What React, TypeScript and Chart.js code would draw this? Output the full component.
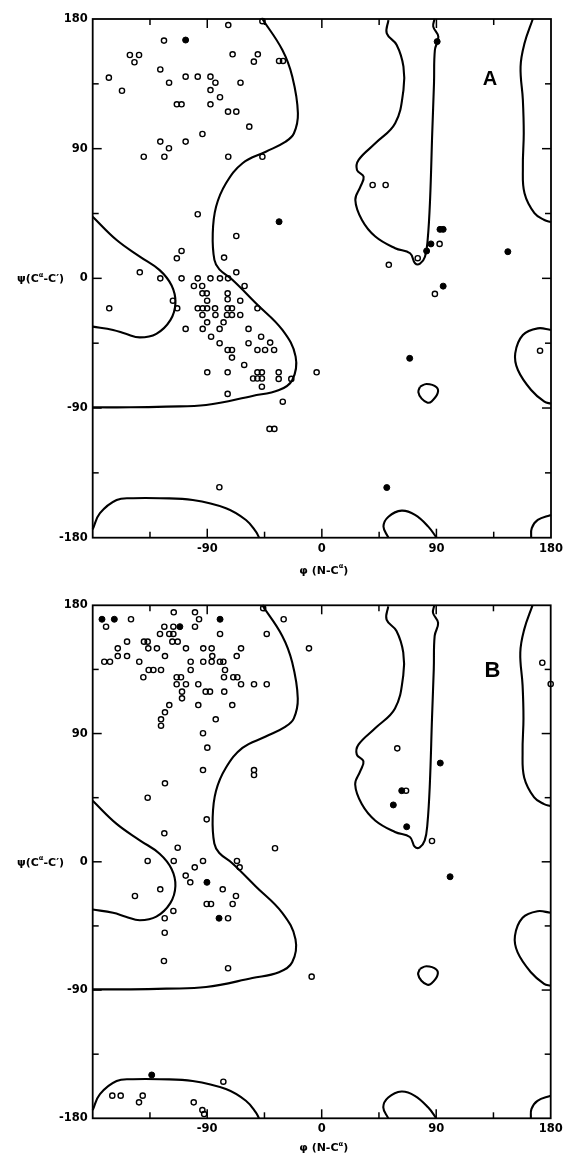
import { useEffect, useRef } from 'react';
import { Chart, registerables } from 'chart.js';

Chart.register(...registerables);

type Pt = [number, number];

const phiTicks = [-180, -135, -90, -45, 0, 45, 90, 135, 180];
const psiTicks = [-180, -135, -90, -45, 0, 45, 90, 135, 180];
const phiLabels = [-90, 0, 90, 180];
const psiLabels = [-180, -90, 0, 90, 180];

// ---------- Panel A ----------
const openA: Pt[] = [
  [-73.5, 175.8], [-46.7, 178.5], [-124, 165], [-150.8, 155], [-143.6, 155], [-147.2, 150],
  [-167.3, 139.3], [-157, 130.2], [-126.9, 145], [-120, 135.8], [-107, 140], [-97.5, 140],
  [-87.5, 140], [-83.6, 135.8], [-87.5, 130.7], [-80, 125.7], [-87.5, 120.8], [-113.9, 120.8],
  [-110.2, 120.8], [-73.7, 115.7], [-67.2, 115.7], [-63.9, 135.8], [-70.1, 155.5], [-53.4, 150.4],
  [-50.3, 155.5], [-33.6, 150.9], [-30.5, 150.9], [-57, 105.3], [-93.8, 100.2], [-126.9, 94.9],
  [-120.1, 90.3], [-107, 94.9], [-139.9, 84.4], [-123.7, 84.4], [-73.5, 84.4], [-46.7, 84.4],
  [-97.5, 44.5], [-67.2, 29.4], [-110.2, 19], [-113.9, 13.9], [-76.8, 14.4], [-143, 4.2],
  [-67.2, 4.2], [-126.9, 0], [-110.2, 0], [-97.5, 0], [-87.5, 0], [-80, 0], [-73.7, 0],
  [-100.5, -5.3], [-94, -5.3], [-60.7, -5.3], [-167, -20.8], [-117, -15.5], [-113.6, -20.8],
  [-107, -35.1], [-93.8, -10.4], [-90.4, -10.4], [-90.1, -15.5], [-74, -10.4], [-74, -14.5],
  [-64.1, -15.5], [-97.5, -20.8], [-93.6, -20.8], [-90.1, -20.8], [-83.9, -20.8], [-74, -20.8],
  [-70.6, -20.8], [-50.6, -20.8], [-83.6, -25.4], [-74.5, -25.4], [-70.6, -25.4], [-64.1, -25.4],
  [-93.8, -25.4], [-90.1, -30.5], [-77.2, -30.5], [-93.6, -35.1], [-80.3, -35.1], [-57.6, -35.1],
  [-87, -40.5], [-47.7, -40.5], [-80.3, -45], [-57.6, -45], [-40.6, -44.6], [-74, -49.7],
  [-70.6, -49.7], [-50.6, -49.7], [-44.6, -49.7], [-37.5, -49.7], [-70.6, -55], [-61, -60.1],
  [-90, -65.2], [-74, -65.2], [-50.6, -65.2], [-47.1, -65.2], [-33.9, -65.2], [-54, -69.5],
  [-50.6, -69.5], [-47.1, -69.5], [-33.9, -69.8], [-24, -69.8], [-47.1, -75.2], [-74, -80.2],
  [-30.7, -85.6], [-41.1, -104.5], [-37.3, -104.5], [-80.5, -145],
  [39.9, 64.8], [50.1, 64.8], [92.5, 23.9], [75.3, 14], [52.6, 9.4], [88.8, -10.8],
  [171.4, -50.2], [-4.1, -65.2],
];
const filledA: Pt[] = [
  [-107, 165.4], [-33.6, 39.3], [90.6, 164.3], [92.8, 34], [95.3, 34], [85.7, 23.9],
  [82.3, 19], [95.3, -5.4], [146.1, 18.5], [69, -55.5], [51, -145.2],
];

// ---------- Panel B ----------
const openB: Pt[] = [
  [-169.5, 165], [-149.9, 170.2], [-116.3, 175.1], [-99.6, 175.1], [-96.4, 170.2], [-99.6, 165],
  [-79.9, 159.9], [-43.2, 159.9], [-29.9, 170.2], [-46, 178], [-123.7, 165], [-116.6, 165],
  [-127.1, 159.9], [-119.8, 159.9], [-116.6, 159.9], [-117.4, 154.5], [-113.2, 154.5],
  [-153, 154.5], [-139.7, 154.5], [-136.8, 154.5], [-136.3, 149.8], [-129.5, 149.8],
  [-160.3, 149.8], [-160.3, 144.4], [-153, 144.4], [-123.2, 144.4], [-106.7, 149.8],
  [-93.1, 149.8], [-86.5, 149.8], [-63.4, 149.8], [-86, 144.4], [-66.8, 144.4], [-170.9, 140.4],
  [-166.4, 140.4], [-143.4, 140.4], [-103, 140.4], [-93.1, 140.4], [-86.5, 140.4], [-80, 140.4],
  [-77.3, 140.4], [-103, 134.6], [-136, 134.6], [-132.3, 134.6], [-126.3, 134.6], [-76, 134.6],
  [-140.2, 129.5], [-114, 129.5], [-110.6, 129.5], [-76.8, 129.5], [-69.5, 129.5], [-66.3, 129.5],
  [-114, 124.6], [-106.7, 124.6], [-97, 124.6], [-63.4, 124.6], [-53.2, 124.6], [-43.2, 124.6],
  [-109.8, 119.4], [-109.8, 114.7], [-91.2, 119.4], [-87.8, 119.4], [-76.6, 119.4], [-119.8, 110],
  [-123.2, 104.9], [-126.3, 100], [-126.3, 95.5], [-97, 110], [-70.3, 110], [-83.3, 100],
  [-93.3, 90.2], [-89.9, 80.1], [-93.3, 64.4], [-53.2, 64.4], [-53.2, 60.9], [-123.2, 55.1],
  [-136.8, 45], [-90.4, 29.8], [-123.7, 20], [-113.2, 9.9], [-36.7, 9.5], [-136.8, 0.6],
  [-116.3, 0.6], [-99.8, -3.9], [-93.3, 0.6], [-66.6, 0.6], [-64.5, -3.9], [-106.9, -9.7],
  [-103.3, -14.4], [-126.9, -19.3], [-146.8, -24], [-77.8, -19.3], [-67.4, -24], [-90.4, -29.6],
  [-87, -29.6], [-70, -29.6], [-116.6, -34.5], [-123.4, -39.6], [-73.6, -39.6], [-123.4, -49.8],
  [-124, -69.6], [-73.6, -74.7], [-77.3, -154.3], [-164.6, -164.1], [-158, -164.1],
  [-140.7, -164.1], [-143.6, -168.8], [-100.6, -168.8], [-93.8, -174.2], [-92.4, -177],
  [-10, 149.8], [59.4, 79.6], [66.3, 49.9], [86.7, 14.6], [173.4, 139.7], [180, 124.8],
  [-7.9, -80.6],
];
const filledB: Pt[] = [
  [-172.7, 170.2], [-163, 170.2], [-79.9, 170.2], [-111.5, 165], [-90.2, -14.4], [-80.7, -39.6],
  [-133.6, -149.6], [93.2, 69.3], [62.9, 49.9], [56.3, 39.9], [66.8, 24.6], [100.9, -10.5],
];

// ---------- Allowed-region contours (shared by both panels) ----------
const contourMain: Pt[] = [
  [-46.7, 180], [-31, 158.5], [-23.2, 140], [-18.8, 114.6], [-21.9, 100.7], [-28.4, 94.9],
  [-44, 87.9], [-62.3, 79.9], [-75.3, 66], [-83.1, 49.7], [-85.7, 31.3], [-84.4, 12.8],
  [-80.5, 6.2], [-70.3, -1], [-51.8, -17.3], [-31, -35.8], [-20.6, -54.3], [-23.2, -70.5],
  [-33.6, -77.5], [-54.5, -81.6], [-90.9, -87.9], [-122.2, -89], [-150, -89.5], [-180, -89.5],
];
const contourPocket: Pt[] = [
  [-180, 42.8], [-161.2, 26.6], [-143, 15.1], [-127.4, 5.7], [-118, -5], [-115, -17],
  [-119, -29], [-130, -38.5], [-143, -41], [-154, -38.5], [-164, -35.8], [-180, -33.5],
];
const contourMid: Pt[] = [
  [52.3, 179.3], [51, 170], [58.8, 162], [64.1, 146.9], [64.1, 130.7], [57.6, 107.6],
  [42, 93.7], [28.9, 82.2], [27.6, 75.2], [32.8, 70.6], [30.3, 63.6], [26.3, 54.4],
  [31.5, 40.5], [42, 29], [57.6, 20.9], [69.3, 17.4], [73.2, 10.5], [77.1, 10.2],
  [81, 15], [83.1, 26.6], [85, 54.4], [86.7, 100.7], [88.1, 135.4], [88.8, 158.5],
  [91.5, 167.7], [87.5, 174.7], [88.5, 180],
];
const contourRightTop: Pt[] = [
  [165.7, 180], [159.2, 163.1], [156.1, 146.9], [157.9, 123.8], [158.6, 100.7], [157.9, 77.5],
  [159.2, 59], [167, 45.2], [174.8, 40.5], [180, 39],
];
const contourRightMid: Pt[] = [
  [180, -35.8], [169.6, -34.7], [157.9, -39.3], [151.9, -52], [154, -63.6], [164.4, -77.5],
  [174.8, -85.6], [180, -87],
];
const contourLoop: Pt[] = [
  [77.1, -75.2], [82.3, -73.3], [90.1, -75.6], [90.9, -79.9], [86.2, -85.4], [83.1, -86.3],
  [78.4, -83.5], [75.8, -78.9], [77.1, -75.2],
];
const contourBottomMid: Pt[] = [
  [52.3, -180], [48.4, -172.3], [52.3, -165.4], [62.7, -161.2], [73.2, -164.2], [83.6, -172.3],
  [90.1, -180],
];
const contourBottomRight: Pt[] = [
  [180, -164.2], [169.6, -167.7], [164.9, -173.4], [164.4, -180],
];
const contourBottomLeft: Pt[] = [
  [-180, -174.2], [-174.3, -163], [-161.2, -153.8], [-148.3, -152.6], [-127.4, -152.6],
  [-101.4, -153.8], [-75.3, -159.5], [-59.6, -167.7], [-51.8, -175.8], [-49.3, -180],
];
const contours: Pt[][] = [
  contourMain, contourPocket, contourMid, contourRightTop, contourRightMid, contourLoop,
  contourBottomMid, contourBottomRight, contourBottomLeft,
];

const FONT = '"DejaVu Sans", sans-serif';

type Area = { left: number; right: number; top: number; bottom: number };

function drawParts(
  ctx: CanvasRenderingContext2D,
  parts: { t: string; sup?: boolean }[],
  x: number,
  y: number,
  size: number,
  center: boolean,
) {
  const widths = parts.map((p) => {
    ctx.font = `bold ${p.sup ? size * 0.62 : size}px ${FONT}`;
    return ctx.measureText(p.t).width;
  });
  const total = widths.reduce((a, b) => a + b, 0);
  let cx = center ? x - total / 2 : x;
  parts.forEach((p, i) => {
    ctx.font = `bold ${p.sup ? size * 0.62 : size}px ${FONT}`;
    ctx.fillText(p.t, cx, p.sup ? y - size * 0.5 : y);
    cx += widths[i];
  });
}

const decorPlugin = {
  id: 'decor',
  afterDraw(chart: any, _args: any, opts: any) {
    const { ctx, chartArea: a, scales } = chart;
    const xs = scales.x;
    const ys = scales.y;
    ctx.save();
    ctx.strokeStyle = '#000';
    ctx.fillStyle = '#000';
    ctx.lineWidth = 1.8;
    ctx.strokeRect(a.left, a.top, a.right - a.left, a.bottom - a.top);
    ctx.lineWidth = 1.5;
    const seg = (x1: number, y1: number, x2: number, y2: number) => {
      ctx.beginPath();
      ctx.moveTo(x1, y1);
      ctx.lineTo(x2, y2);
      ctx.stroke();
    };
    phiTicks.forEach((v) => {
      if (Math.abs(v) === 180) return;
      const px = xs.getPixelForValue(v);
      const len = v % 90 === 0 ? 9 : 6;
      seg(px, a.top, px, a.top + len);
      seg(px, a.bottom, px, a.bottom - len);
    });
    psiTicks.forEach((v) => {
      if (Math.abs(v) === 180) return;
      const py = ys.getPixelForValue(v);
      const len = v % 90 === 0 ? 9 : 6;
      seg(a.left, py, a.left + len, py);
      seg(a.right, py, a.right - len, py);
    });
    ctx.textAlign = 'left';
    ctx.textBaseline = 'alphabetic';
    // psi axis title
    drawParts(
      ctx,
      [{ t: 'ψ(C' }, { t: 'α', sup: true }, { t: '-C′)' }],
      opts.yTitleX,
      ys.getPixelForValue(0) + 4,
      11,
      false,
    );
    // phi axis title
    drawParts(
      ctx,
      [{ t: 'φ (N-C' }, { t: 'α', sup: true }, { t: ')' }],
      xs.getPixelForValue(0) + 2,
      a.bottom + opts.xTitleDy,
      11,
      true,
    );
    // panel letter
    ctx.font = `bold ${opts.letterSize}px "Liberation Sans", sans-serif`;
    ctx.textAlign = 'center';
    ctx.fillText(opts.letter, xs.getPixelForValue(opts.letterPhi), ys.getPixelForValue(opts.letterPsi));
    ctx.restore();
  },
};

function Panel(props: {
  open: Pt[];
  filled: Pt[];
  letter: string;
  letterPhi: number;
  letterPsi: number;
  letterSize: number;
  top: number;
  height: number;
  area: Area;
  xTitleDy: number;
}) {
  const ref = useRef<HTMLCanvasElement>(null);
  useEffect(() => {
    const { open, filled, letter, letterPhi, letterPsi, letterSize, height, area, xTitleDy } = props;
    const tickFont = { family: FONT, size: 11.5, weight: 'bold' as const };
    const datasets: any[] = contours.map((c) => ({
      data: c.map(([x, y]) => ({ x, y })),
      showLine: true,
      borderColor: '#000',
      borderWidth: 2.1,
      pointRadius: 0,
      tension: 0.4,
      fill: false,
      clip: 2,
    }));
    datasets.push({
      data: open.map(([x, y]) => ({ x, y })),
      pointStyle: 'circle',
      pointRadius: 2.6,
      pointBorderWidth: 1.4,
      pointBorderColor: '#000',
      pointBackgroundColor: 'rgba(0,0,0,0)',
      showLine: false,
      clip: false,
    });
    datasets.push({
      data: filled.map(([x, y]) => ({ x, y })),
      pointStyle: 'circle',
      pointRadius: 3,
      pointBorderWidth: 1,
      pointBorderColor: '#000',
      pointBackgroundColor: '#000',
      showLine: false,
      clip: false,
    });
    const chart = new Chart(ref.current as HTMLCanvasElement, {
      type: 'scatter',
      data: { datasets },
      plugins: [decorPlugin as any],
      options: {
        animation: false,
        responsive: false,
        devicePixelRatio: 1,
        events: [],
        layout: { padding: { top: area.top, right: 567 - area.right, left: 0, bottom: 0 } },
        plugins: {
          legend: { display: false },
          tooltip: { enabled: false },
          decor: { letter, letterPhi, letterPsi, letterSize, yTitleX: 17, xTitleDy } as any,
        } as any,
        scales: {
          x: {
            type: 'linear',
            min: -180,
            max: 180,
            position: 'bottom',
            afterFit: (s: any) => {
              s.height = height - area.bottom;
            },
            grid: { display: false, drawTicks: false },
            border: { display: false },
            ticks: {
              stepSize: 45,
              autoSkip: false,
              maxRotation: 0,
              padding: 4,
              color: '#000',
              font: tickFont,
              callback: (v: any) => (phiLabels.includes(Number(v)) ? String(v) : ''),
            },
          },
          y: {
            type: 'linear',
            min: -180,
            max: 180,
            position: 'left',
            afterFit: (s: any) => {
              s.width = area.left;
            },
            grid: { display: false, drawTicks: false },
            border: { display: false },
            ticks: {
              stepSize: 45,
              autoSkip: false,
              padding: 5,
              color: '#000',
              font: tickFont,
              callback: (v: any) => (psiLabels.includes(Number(v)) ? String(v) : ''),
            },
          },
        },
      },
    });
    return () => chart.destroy();
  }, []);
  return (
    <canvas
      ref={ref}
      width={567}
      height={props.height}
      style={{ position: 'absolute', left: 0, top: props.top, width: 567, height: props.height }}
    />
  );
}

export default function App() {
  return (
    <div style={{ position: 'absolute', left: 0, top: 0, width: 567, height: 1157, background: '#fff' }}>
      <Panel
        open={openA}
        filled={filledA}
        letter="A"
        letterPhi={132}
        letterPsi={134}
        letterSize={20}
        top={0}
        height={586}
        area={{ left: 92.7, right: 553.3, top: 19, bottom: 537.7 }}
        xTitleDy={36}
      />
      <Panel
        open={openB}
        filled={filledB}
        letter="B"
        letterPhi={134.3}
        letterPsi={130}
        letterSize={22}
        top={586}
        height={571}
        area={{ left: 92.7, right: 550.7, top: 19.3, bottom: 532.3 }}
        xTitleDy={33}
      />
    </div>
  );
}
